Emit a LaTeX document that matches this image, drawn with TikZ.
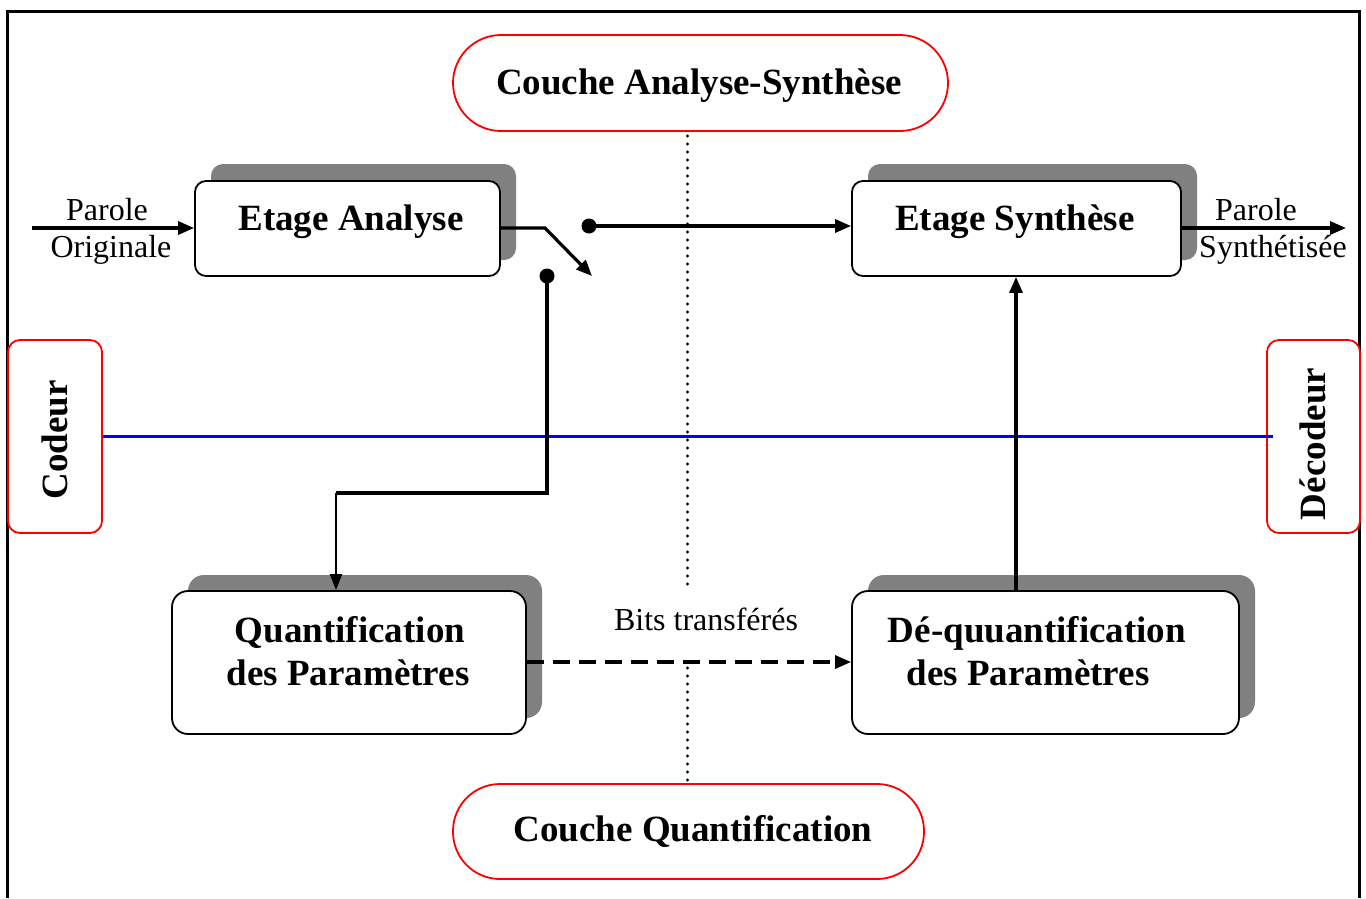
\documentclass[tikz,border=0pt]{standalone}
\usepackage{fontspec}
\setmainfont{Liberation Serif}
\usetikzlibrary{arrows.meta}
\definecolor{shadowgrey}{HTML}{808080}
\definecolor{pureblue}{HTML}{0000FF}
\definecolor{purered}{HTML}{FF0000}
\begin{document}
\begin{tikzpicture}[x=1pt,y=-1pt,
  bigtxt/.style={font=\fontsize{37}{43}\selectfont\bfseries, inner sep=0pt, anchor=base},
  smalltxt/.style={font=\fontsize{32}{36}\selectfont, inner sep=0pt, anchor=base},
  blockbox/.style={draw=black, line width=1.8pt, fill=white, rounded corners=11pt, inner sep=0pt},
  bigblock/.style={blockbox, rounded corners=16pt},
  shadowbox/.style={fill=shadowgrey, draw=none, rounded corners=12pt},
  redbox/.style={draw=purered, line width=1.8pt, fill=white, inner sep=0pt},
  conn/.style={line width=3.2pt},
  arr/.style={-{Triangle[length=16pt,width=13pt]}},
  dotsep/.style={line width=3.2pt, dash pattern=on 0pt off 8pt, line cap=round},
  dotend/.style={fill=black, draw=none},
]
\useasboundingbox (0,0) rectangle (1366,898);
\fill[white] (0,0) rectangle (1366,898);

% outer frame
\draw[line width=3.4pt] (7.5,898) -- (7.5,11.5) -- (1359.5,11.5) -- (1359.5,898);

% dotted layer separator
\coordinate (dtop) at (687.5,136);
\coordinate (dmid1) at (687.5,588);
\coordinate (dmid2) at (687.5,668);
\coordinate (dbot) at (687.5,782);
\draw[dotsep] (dtop) -- (dmid1);
\draw[dotsep] (dmid2) -- (dbot);

% layer boxes
\node[redbox, rounded corners=48pt, minimum width=495pt, minimum height=96pt] (cas) at (700.5,83) {};
\node[bigtxt] (castxt) at (699,94) {Couche Analyse-Synthèse};
\node[redbox, rounded corners=47pt, minimum width=471pt, minimum height=95pt] (cq) at (688.5,831.5) {};
\node[bigtxt] (cqtxt) at (693,841) {Couche Quantification};

% codeur / decodeur
\node[redbox, rounded corners=12pt, minimum width=94pt, minimum height=193pt] (cod) at (55,436.5) {};
\node[font=\fontsize{37}{43}\selectfont\bfseries, inner sep=0pt, rotate=90] (codtxt) at (55,440) {Codeur};
\node[redbox, rounded corners=12pt, minimum width=93pt, minimum height=193pt] (dec) at (1313.5,436.5) {};
\node[font=\fontsize{37}{43}\selectfont\bfseries, inner sep=0pt, rotate=90] (dectxt) at (1313,444) {Décodeur};
\draw[pureblue, line width=3.4pt] (cod.east) -- ([xshift=7pt]dec.west);

% shadows
\fill[shadowbox] (211,164) rectangle (516,260);
\fill[shadowbox] (868,164) rectangle (1197,260);
\fill[shadowbox, rounded corners=16pt] (188,575) rectangle (542,718);
\fill[shadowbox, rounded corners=16pt] (868,575) rectangle (1255,718);

% blocks
\node[blockbox, minimum width=305pt, minimum height=95pt] (ea) at (347.5,228.5) {};
\node[bigtxt] (eatxt) at (351,230) {Etage Analyse};
\node[blockbox, minimum width=329pt, minimum height=95pt] (es) at (1016.5,228.5) {};
\node[bigtxt] (estxt) at (1015,230) {Etage Synthèse};
\node[bigblock, minimum width=354pt, minimum height=143pt] (qp) at (349,662.5) {};
\node[bigtxt] (qptxt1) at (350,642) {Quantification};
\node[bigtxt] (qptxt2) at (348,685) {des Paramètres};
\node[bigblock, minimum width=387pt, minimum height=143pt] (dq) at (1045.5,662.5) {};
\node[bigtxt] (dqtxt1) at (1037,642) {Dé-quuantification};
\node[bigtxt] (dqtxt2) at (1028,685) {des Paramètres};

% input / output
\coordinate (in) at (32,228);
\coordinate (out) at (1346,228);
\draw[conn, arr] (in) -- (in -| ea.west);
\node[smalltxt] (pin1) at (107,220) {Parole};
\node[smalltxt] (pin2) at (111,257) {Originale};
\draw[conn, arr] (es.east |- out) -- (out);
\node[smalltxt] (pout1) at (1256,220) {Parole};
\node[smalltxt] (pout2) at (1273,257) {Synthétisée};

% switch
\coordinate (sw1) at (545,228);
\coordinate (swtip) at (592,276);
\draw[conn, arr] (sw1 -| ea.east) -- (sw1) -- (swtip);
\coordinate (d1) at (589,226);
\coordinate (d2) at (547,276);
\fill[dotend] (d1) circle (7.5pt);
\fill[dotend] (d2) circle (7.5pt);
\draw[conn, arr] (d1) -- (d1 -| es.west);
\coordinate (bend1) at (547,493);
\coordinate (bend2) at (336,493);
\draw[conn] (d2) -- (bend1) -- (bend2);
\draw[line width=2pt, -{Triangle[length=16pt,width=12pt]}] (bend2) -- (bend2 |- qp.north);

% de-quantif to synthese
\coordinate (up) at (1016,591);
\draw[conn, arr] (up |- dq.north) -- (up |- es.south);

% bits transferred
\draw[conn, arr, dash pattern=on 17pt off 9pt] (qp.east |- 0,662) -- (dq.west |- 0,662);
\node[smalltxt] (bits) at (706,630) {Bits transférés};

\end{tikzpicture}
\end{document}
